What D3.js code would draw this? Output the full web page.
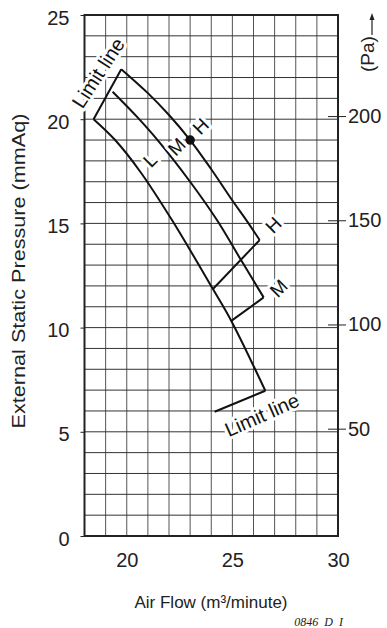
<!DOCTYPE html>
<html><head><meta charset="utf-8">
<script src="https://cdn.jsdelivr.net/npm/d3@7"></script>
<style>
html,body{margin:0;padding:0;background:#fff;}
svg{display:block;font-family:"Liberation Sans",Arial,sans-serif;}
</style></head>
<body>
<script>
// ---- data (air flow m3/min, static pressure mmAq) ----
const xTicks = [20, 25, 30];
const yTicks = [0, 5, 10, 15, 20, 25];
const paTicks = [50, 100, 150, 200];
const curveH = [[19.74,22.40],[21.0,21.25],[22.0,20.2],[23.0,19.0],[24.0,17.6],[25.0,16.1],[25.7,15.1],[26.29,14.2]];
const curveM = [[19.33,21.32],[20.5,20.1],[21.5,18.95],[23.0,17.0],[24.27,15.16],[25.41,13.24],[26.48,11.45]];
const curveL = [[18.43,20.0],[19.45,19.0],[20.64,17.48],[22.14,15.16],[24.08,11.85],[24.95,10.32],[26.56,6.97]];
const limitTop = [[18.43,20.0],[19.74,22.40]];
const limitBottom = [[26.56,6.97],[24.16,5.96]];
const connH = [[26.29,14.2],[24.08,11.85]];
const connM = [[26.48,11.45],[24.95,10.32]];
const ratedPoint = [[23.0,19.0]];
const annotations = [
  {t:"Limit line", x:18.65, y:22.22, r:-57},
  {t:"H", x:23.5, y:19.66, r:-45},
  {t:"M", x:22.37, y:18.68, r:-45},
  {t:"L", x:21.11, y:18.04, r:-45},
  {t:"H", x:26.95, y:14.92, r:-45},
  {t:"M", x:27.19, y:11.89, r:-45},
  {t:"Limit line", x:26.40, y:5.81, r:-24}
];

const W = 387, H = 628;
const svg = d3.select("body").append("svg").attr("width", W).attr("height", H);

const x = d3.scaleLinear().domain([18, 30]).range([84.5, 338]);
const y = d3.scaleLinear().domain([0, 25]).range([536, 15]);
const yPa = d3.scaleLinear().domain([-1.5, 248.5]).range([536, 15]);

// grid
const g = svg.append("g");
g.selectAll(".vg").data(d3.range(18, 31)).join("line")
  .attr("x1", d => x(d)).attr("x2", d => x(d)).attr("y1", y(0)).attr("y2", y(25))
  .attr("stroke", "#555").attr("stroke-width", 1);
g.selectAll(".hg").data(d3.range(0, 26)).join("line")
  .attr("y1", d => y(d)).attr("y2", d => y(d)).attr("x1", x(18)).attr("x2", x(30))
  .attr("stroke", "#333").attr("stroke-width", 1);

// frame
svg.append("rect").attr("x", x(18)).attr("y", y(25))
  .attr("width", x(30) - x(18)).attr("height", y(0) - y(25))
  .attr("fill", "none").attr("stroke", "#222").attr("stroke-width", 2);

// left axis
const yAxis = d3.axisLeft(y).tickValues(yTicks).tickSize(4).tickPadding(11).tickFormat(d3.format("d"));
svg.append("g").attr("transform", `translate(${x(18)},0)`).call(yAxis)
  .call(a => a.select(".domain").remove())
  .call(a => a.selectAll("line").attr("stroke", "#222"))
  .call(a => a.selectAll("text").attr("font-size", 20).attr("fill", "#222")
      .attr("font-family", "Liberation Sans, Arial, sans-serif").attr("dy", "0.45em"));

// bottom axis
const xAxis = d3.axisBottom(x).tickValues(xTicks).tickSize(0).tickPadding(17).tickFormat(d3.format("d"));
svg.append("g").attr("transform", `translate(0,${y(0)})`).call(xAxis)
  .call(a => a.select(".domain").remove())
  .call(a => a.selectAll("text").attr("font-size", 20).attr("fill", "#222")
      .attr("font-family", "Liberation Sans, Arial, sans-serif"));

// right Pa axis
const paAxis = d3.axisRight(yPa).tickValues(paTicks).tickSize(8).tickPadding(2).tickFormat(d3.format("d"));
svg.append("g").attr("transform", `translate(${x(30)},0)`).call(paAxis)
  .call(a => a.select(".domain").remove())
  .call(a => a.selectAll("line").attr("x1", -10).attr("stroke", "#222"))
  .call(a => a.selectAll("text").attr("font-size", 20).attr("fill", "#222")
      .attr("font-family", "Liberation Sans, Arial, sans-serif"));

// (Pa) label with arrow
svg.append("text").attr("transform", "translate(374,54) rotate(-90)")
  .attr("text-anchor", "middle").attr("font-size", 19).attr("fill", "#222").text("(Pa)");
svg.append("line").attr("x1", 372).attr("x2", 372).attr("y1", 35).attr("y2", 19)
  .attr("stroke", "#222").attr("stroke-width", 1.2);
svg.append("path").attr("d", "M372,13 L369.5,20 L374.5,20 Z").attr("fill", "#222");

// axis titles
svg.append("text").attr("transform", "translate(25,271) rotate(-90)")
  .attr("text-anchor", "middle").attr("font-size", 18).attr("fill", "#222")
  .attr("textLength", 315).attr("lengthAdjust", "spacingAndGlyphs")
  .text("External Static Pressure (mmAq)");
svg.append("text").attr("x", 211).attr("y", 608)
  .attr("text-anchor", "middle").attr("font-size", 17).attr("fill", "#222")
  .text("Air Flow (m³/minute)");
svg.append("text").attr("x", 343).attr("y", 626)
  .attr("text-anchor", "end").attr("font-size", 12).attr("font-style", "italic")
  .attr("font-family", "Liberation Serif, Times New Roman, serif").attr("fill", "#222")
  .attr("word-spacing", 3).text("0846 D I");

// curves
const smooth = d3.line().x(d => x(d[0])).y(d => y(d[1])).curve(d3.curveCatmullRom.alpha(0.5));
const straight = d3.line().x(d => x(d[0])).y(d => y(d[1]));
const cg = svg.append("g").attr("fill", "none").attr("stroke", "#111").attr("stroke-width", 2)
  .attr("stroke-linejoin", "miter");
[curveH, curveM, curveL].forEach(c => cg.append("path").attr("d", smooth(c)));
[limitTop, limitBottom, connH, connM].forEach(c => cg.append("path").attr("d", straight(c)));

svg.selectAll(".pt").data(ratedPoint).join("circle")
  .attr("cx", d => x(d[0])).attr("cy", d => y(d[1])).attr("r", 4.8).attr("fill", "#111");

// annotations with white halo
svg.selectAll(".ann").data(annotations).join("text")
  .attr("transform", d => `translate(${x(d.x)},${y(d.y)}) rotate(${d.r})`)
  .attr("text-anchor", "middle").attr("dominant-baseline", "central")
  .attr("font-size", d => d.t.length > 1 ? 20 : 19).attr("fill", "#111")
  .attr("stroke", "#fff").attr("stroke-width", 6).attr("paint-order", "stroke")
  .attr("stroke-linejoin", "round")
  .text(d => d.t);
</script>
</body></html>
